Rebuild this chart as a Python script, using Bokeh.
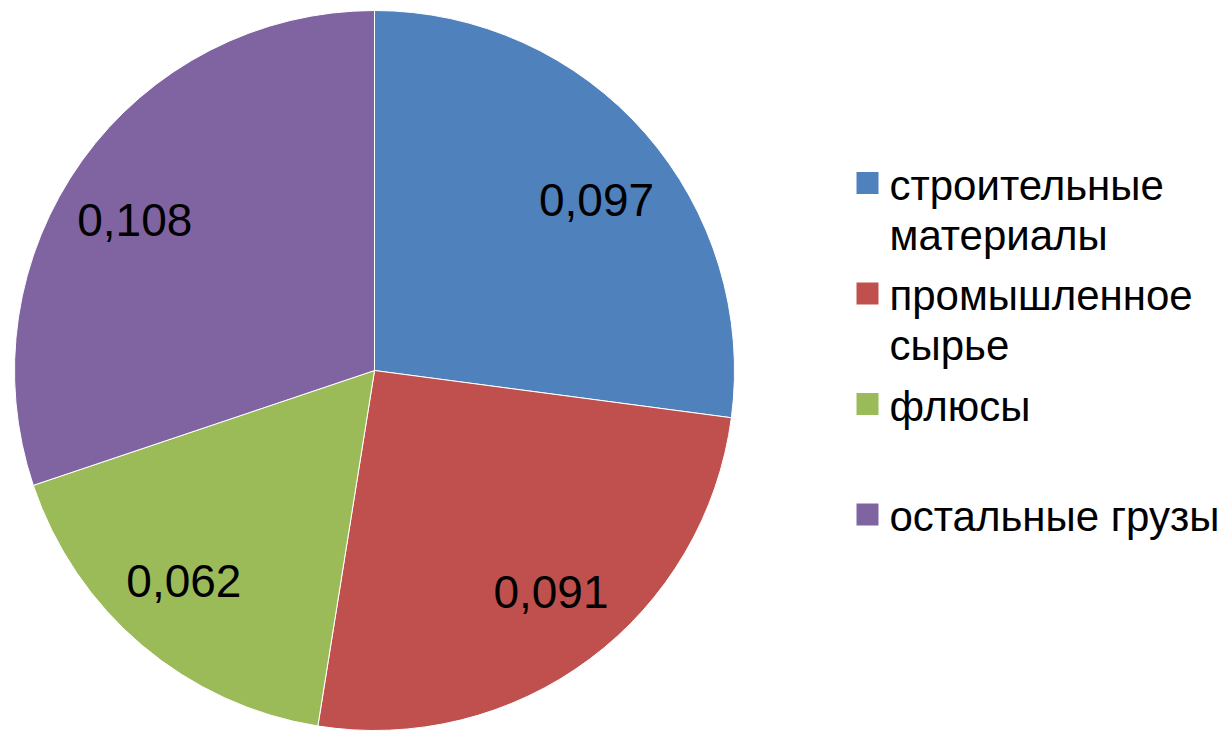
import math
from bokeh.plotting import figure
from bokeh.models import Range1d, ColumnDataSource
from bokeh.core.properties import value
from bokeh.embed import file_html
from bokeh.resources import INLINE

# ---- data ----
categories = ["строительные\nматериалы", "промышленное\nсырье", "флюсы", "остальные грузы"]
values = [0.097, 0.091, 0.062, 0.108]
colors = ["#4F81BD", "#C0504D", "#9BBB59", "#8064A2"]

# ---- layout constants ----
W, H = 1226, 731
CX, CY, R = 374, 361, 360
LABEL_RX, LABEL_RY = 0.82 * R, 0.745 * R
LABEL_DY = -6
FONT = value("Liberation Sans")

p = figure(width=W, height=H, x_range=Range1d(0, W), y_range=Range1d(0, H),
           x_axis_type=None, y_axis_type=None, toolbar_location=None,
           output_backend="svg", min_border=0)
p.grid.visible = False
p.outline_line_color = None
p.background_fill_color = "white"
p.border_fill_color = "white"

total = sum(values)
starts, ends, lx, ly, labels = [], [], [], [], []
cum = 0.0
for v in values:
    a_prev = math.pi / 2 - 2 * math.pi * cum / total
    cum += v
    a_cur = math.pi / 2 - 2 * math.pi * cum / total
    starts.append(a_cur)
    ends.append(a_prev)
    mid = (a_prev + a_cur) / 2
    lx.append(CX + LABEL_RX * math.cos(mid))
    ly.append(CY + LABEL_RY * math.sin(mid) + LABEL_DY)
    labels.append(f"{v:.3f}".replace(".", ","))

src = ColumnDataSource(dict(start=starts, end=ends, color=colors))
p.wedge(x=CX, y=CY, radius=R, start_angle="start", end_angle="end",
        fill_color="color", line_color="white", line_width=1, source=src)

p.text(x=lx, y=ly, text=labels, text_font=FONT, text_font_size=value("46px"),
       text_align="center", text_baseline="middle", text_color="black")

# ---- legend ----
SQ_X, SQ_Y0, SQ_STEP, SQ = 867, 548.5, 110.5, 22
TX = 889
LINE_H = 50
BASE_DY = -2
p.rect(x=[SQ_X] * len(categories), y=[SQ_Y0 - i * SQ_STEP for i in range(len(categories))],
       width=SQ, height=SQ, fill_color=colors, line_color=None)
tx, ty, tt = [], [], []
for i, c in enumerate(categories):
    for j, line in enumerate(c.split("\n")):
        tx.append(TX)
        ty.append(SQ_Y0 - i * SQ_STEP + BASE_DY - j * LINE_H)
        tt.append(line)
p.text(x=tx, y=ty, text=tt, text_font=FONT, text_font_size=value("42px"),
       text_align="left", text_baseline="alphabetic", text_color="black")

open("out.html", "w").write(file_html(p, INLINE))
